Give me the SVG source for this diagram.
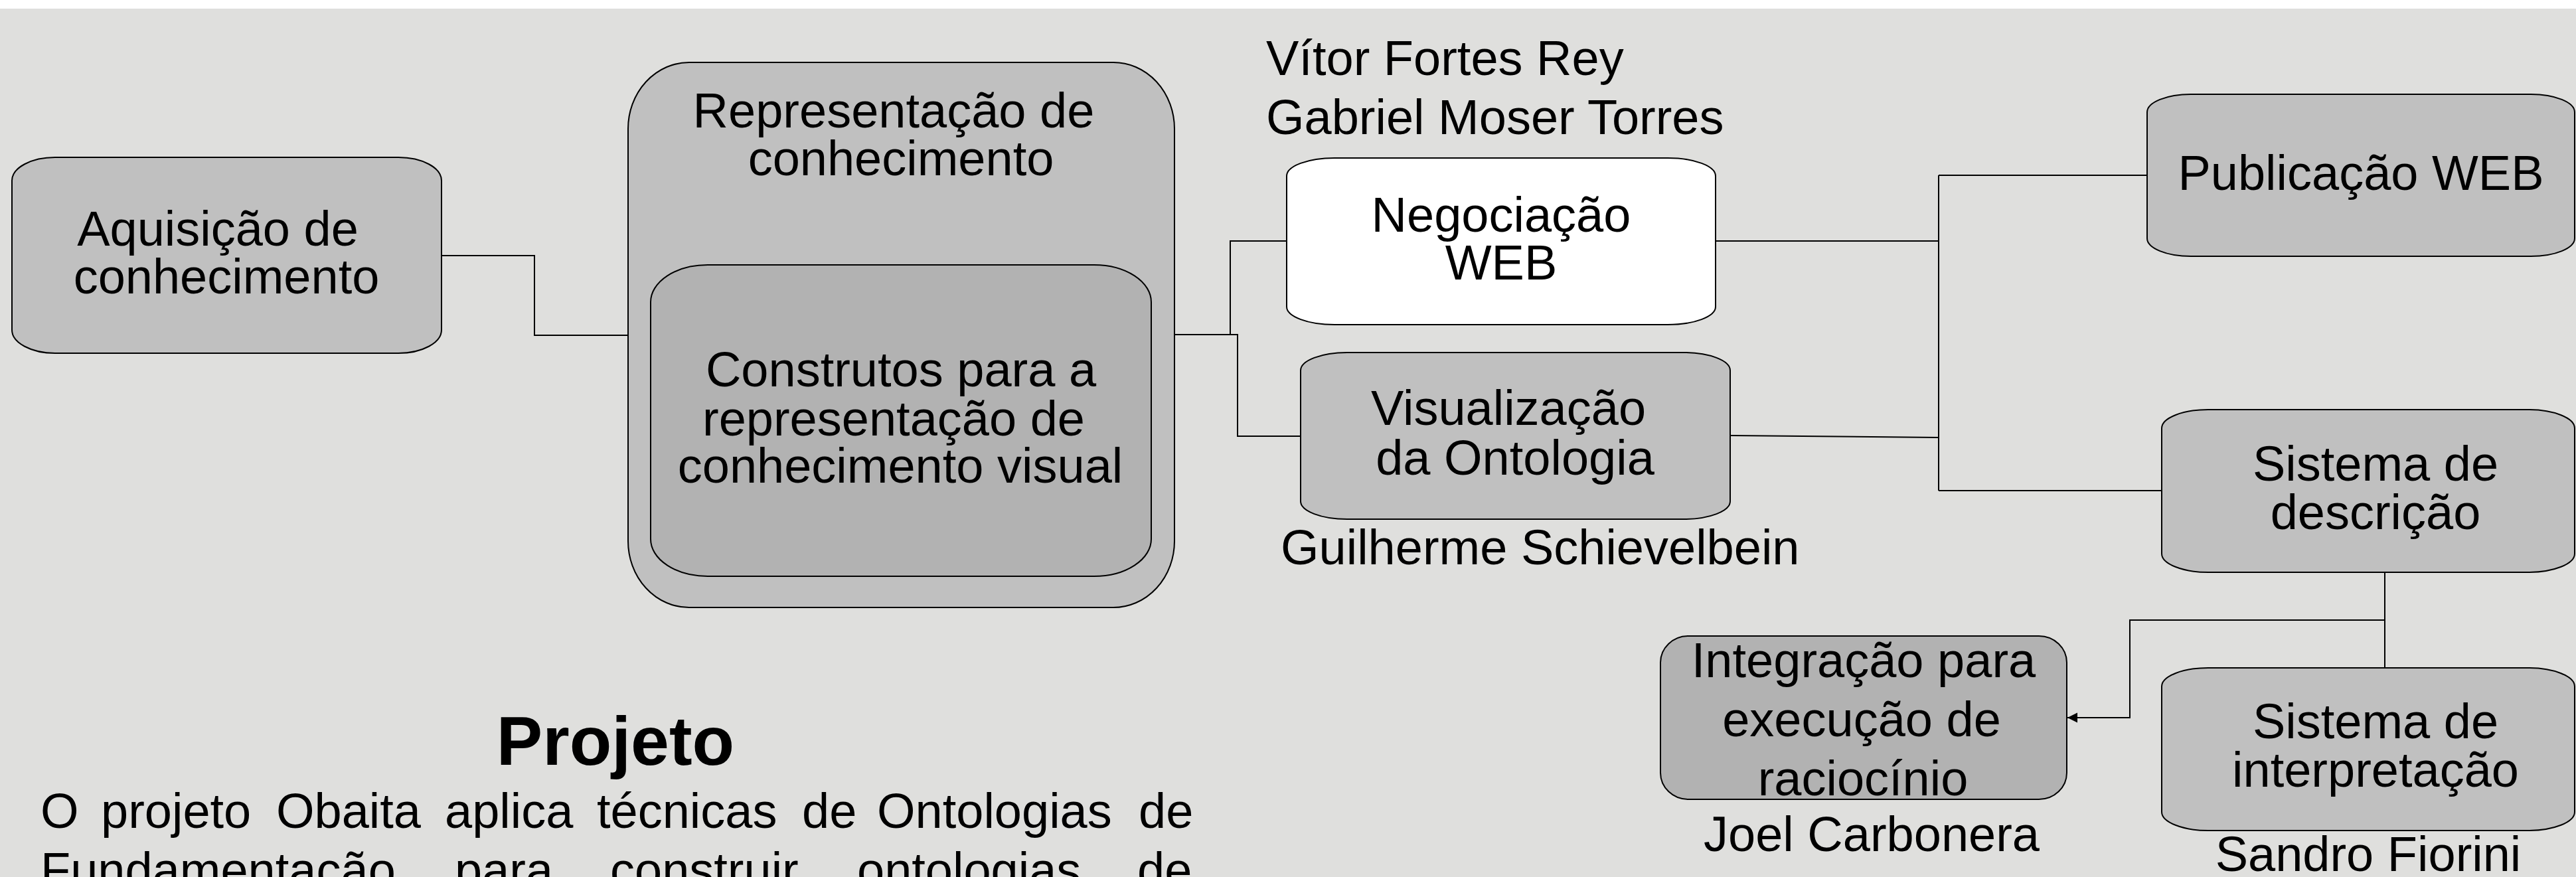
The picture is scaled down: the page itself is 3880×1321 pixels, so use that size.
<svg xmlns="http://www.w3.org/2000/svg" width="3880" height="1321" viewBox="0 0 3880 1321">
<style>
.bg{fill:#dfdfdd}
.box{fill:#c0c0c0;stroke:#000;stroke-width:2}
.dark{fill:#b2b2b2}
.white{fill:#ffffff}
.t{font-family:"Liberation Sans",Arial,sans-serif;font-size:74px;fill:#000}
.m{text-anchor:middle}
.title{font-family:"Liberation Sans",Arial,sans-serif;font-size:104px;font-weight:bold;fill:#000;text-anchor:middle}
.c{fill:none;stroke:#000;stroke-width:2}
</style>
<defs>
<marker id="arrow" markerWidth="16" markerHeight="16" refX="15" refY="8" orient="auto" markerUnits="userSpaceOnUse">
<path d="M0,0.5 L15,8 L0,15.5 Z" fill="#000"/>
</marker>
</defs>
<rect x="0" y="0" width="3880" height="1321" fill="#ffffff"/>
<rect class="bg" x="0" y="13" width="3880" height="1308"/>

<g id="connectors">
<path class="c" d="M665,385 H805 V505 H946"/>
<path class="c" d="M1769,504 H1853 V363 H1938"/>
<path class="c" d="M1853,504 H1864 V657 H1959"/>
<path class="c" d="M2584,363 H2920"/>
<path class="c" d="M2606,656 L2920,659"/>
<path class="c" d="M2920,264 V739"/>
<path class="c" d="M2920,264 H3234"/>
<path class="c" d="M2920,739 H3256"/>
<path class="c" d="M3592,862 V1006"/>
<path class="c" d="M3592,934 H3208 V1081 H3114" marker-end="url(#arrow)"/>
</g>

<g id="aquisicao">
<rect class="box" x="18" y="237" width="647" height="295" rx="65" ry="35"/>
<text class="t m" x="328" y="370">Aquisição de</text>
<text class="t m" x="341" y="442">conhecimento</text>
</g>

<g id="representacao">
<rect class="box" x="946" y="94" width="823" height="821" rx="92" ry="100"/>
<text class="t m" x="1346" y="192">Representação de</text>
<text class="t m" x="1357" y="264">conhecimento</text>
</g>

<g id="construtos">
<rect class="box dark" x="980" y="399" width="754" height="469" rx="86" ry="56"/>
<text class="t m" x="1357" y="582">Construtos para a</text>
<text class="t m" x="1346" y="656">representação de</text>
<text class="t m" x="1356" y="727">conhecimento visual</text>
</g>

<g id="negociacao">
<rect class="box white" x="1938" y="238" width="646" height="251" rx="72" ry="27"/>
<text class="t m" x="2261" y="349">Negociação</text>
<text class="t m" x="2261" y="421">WEB</text>
</g>

<g id="visualizacao">
<rect class="box" x="1959" y="531" width="647" height="251" rx="70" ry="27"/>
<text class="t m" x="2272" y="640">Visualização</text>
<text class="t m" x="2282" y="715">da Ontologia</text>
</g>

<g id="publicacao">
<rect class="box" x="3234" y="142" width="644" height="244" rx="66" ry="27"/>
<text class="t m" x="3556" y="286">Publicação WEB</text>
</g>

<g id="descricao">
<rect class="box" x="3256" y="617" width="622" height="245" rx="70" ry="28"/>
<text class="t m" x="3578" y="724">Sistema de</text>
<text class="t m" x="3578" y="797">descrição</text>
</g>

<g id="interpretacao">
<rect class="box" x="3256" y="1006" width="622" height="245" rx="70" ry="28"/>
<text class="t m" x="3578" y="1112">Sistema de</text>
<text class="t m" x="3578" y="1185">interpretação</text>
</g>

<g id="integracao">
<rect class="box dark" x="2501" y="958" width="612" height="246" rx="42" ry="40"/>
<text class="t m" x="2807" y="1020">Integração para</text>
<text class="t m" x="2804" y="1109">execução de</text>
<text class="t m" x="2806" y="1198">raciocínio</text>
</g>

<g id="names">
<text class="t" x="1907" y="113">Vítor Fortes Rey</text>
<text class="t" x="1907" y="202">Gabriel Moser Torres</text>
<text class="t" x="1929" y="850">Guilherme Schievelbein</text>
<text class="t m" x="2819" y="1282">Joel Carbonera</text>
<text class="t m" x="3567" y="1312">Sandro Fiorini</text>
</g>

<g id="projeto">
<text class="title" x="927" y="1152">Projeto</text>
<text class="t" y="1247"><tspan x="61">O</tspan> <tspan x="152">projeto</tspan> <tspan x="416">Obaita</tspan> <tspan x="670">aplica</tspan> <tspan x="899">técnicas</tspan> <tspan x="1208">de</tspan> <tspan x="1321">Ontologias</tspan> <tspan x="1715">de</tspan></text>
<text class="t" y="1336"><tspan x="61">Fundamentação</tspan> <tspan x="685">para</tspan> <tspan x="919">construir</tspan> <tspan x="1291">ontologias</tspan> <tspan x="1713">de</tspan></text>
</g>
</svg>
